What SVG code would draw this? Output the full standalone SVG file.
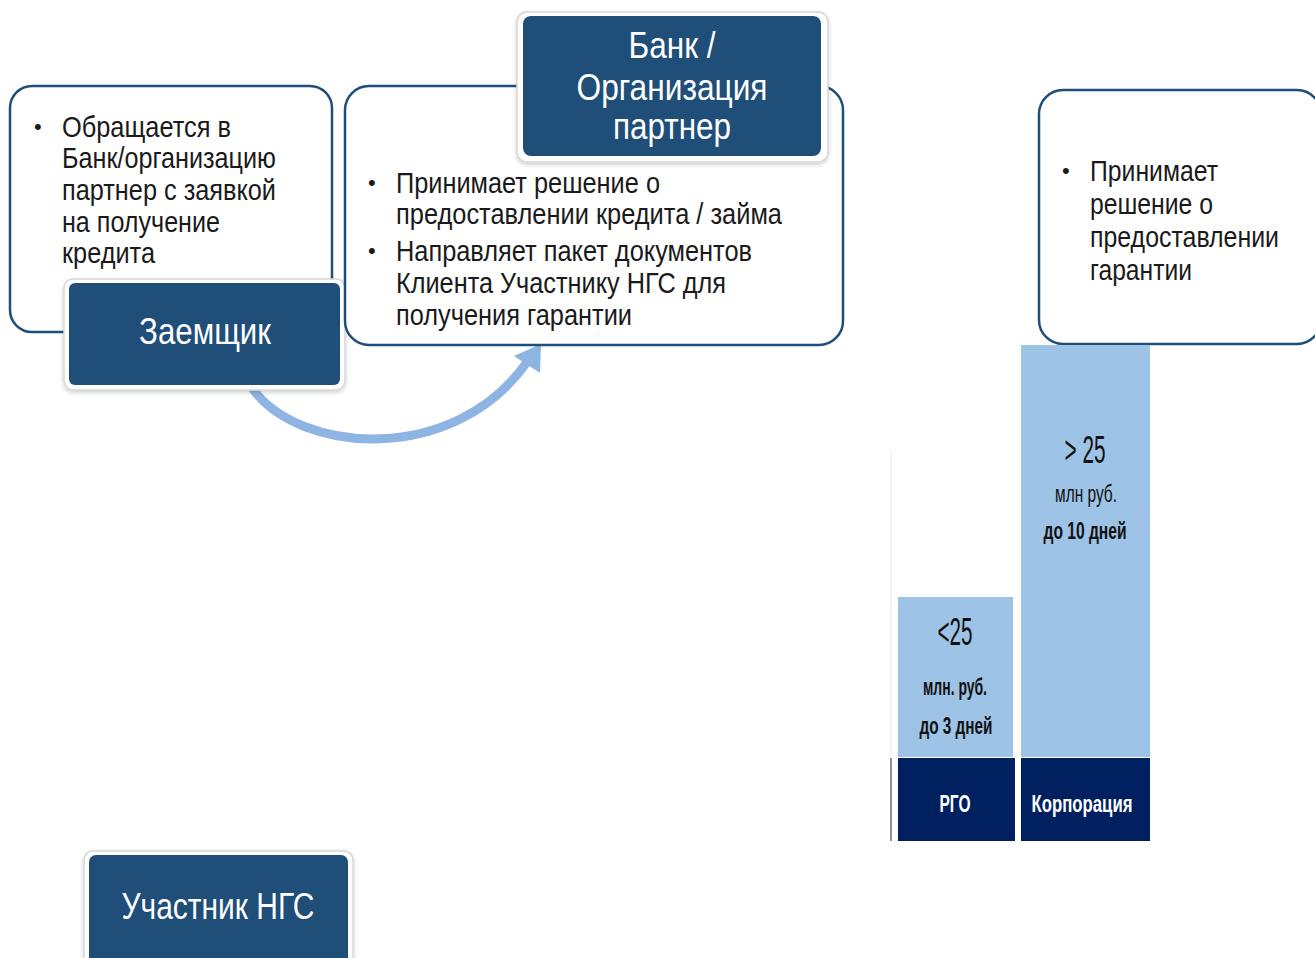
<svg xmlns="http://www.w3.org/2000/svg" width="1315" height="958" viewBox="0 0 1315 958">
<style>
.box{fill:#fff;stroke:#1f4e79;stroke-width:2.5}
.hdr-o{fill:#fff;stroke:#d6d6d6;stroke-width:1.5}
.hdr{fill:#1f4e79}
.ht{font-family:"Liberation Sans Narrow","Liberation Sans",Arial,sans-serif;font-size:36px;fill:#fff;text-anchor:middle}
.bt{font-family:"Liberation Sans Narrow","Liberation Sans",Arial,sans-serif;font-size:29px;fill:#1a1a1a}
.bul{font-family:"Liberation Sans",Arial,sans-serif;font-size:22px;fill:#1a1a1a}
.light{fill:#9dc3e6}
.dark{fill:#002060}
.bk{font-family:"Liberation Sans Narrow","Liberation Sans",Arial,sans-serif;fill:#111;text-anchor:middle}
.wt{font-family:"Liberation Sans Narrow","Liberation Sans",Arial,sans-serif;fill:#fff;text-anchor:middle;font-weight:bold;font-size:23px}
</style>
<defs>
<filter id="sh" x="-10%" y="-10%" width="120%" height="130%">
<feDropShadow dx="0" dy="2" stdDeviation="2" flood-color="#000" flood-opacity="0.18"/>
</filter>
</defs>

<g id="connectors">
<path d="M 252 388 C 300 455, 455 465, 527 362" fill="none" stroke="#8db4e2" stroke-width="9"/>
<polygon points="541,344 540,373 514,356" fill="#8db4e2"/>
</g>

<g id="borrower-box">
<rect class="box" x="10" y="86" width="322" height="246" rx="22"/>
<text class="bul" x="34" y="134">•</text>
<text class="bt" x="62" y="137" textLength="169" lengthAdjust="spacingAndGlyphs">Обращается в</text>
<text class="bt" x="62" y="168" textLength="214" lengthAdjust="spacingAndGlyphs">Банк/организацию</text>
<text class="bt" x="62" y="200" textLength="214" lengthAdjust="spacingAndGlyphs">партнер с заявкой</text>
<text class="bt" x="62" y="232" textLength="158" lengthAdjust="spacingAndGlyphs">на получение</text>
<text class="bt" x="62" y="263" textLength="93" lengthAdjust="spacingAndGlyphs">кредита</text>
</g>

<g id="borrower">
<rect class="hdr-o" x="64" y="279" width="281" height="111" rx="9" filter="url(#sh)"/>
<rect class="hdr" x="69" y="283" width="271" height="102" rx="6"/>
<text class="ht" x="205" y="344" textLength="132" lengthAdjust="spacingAndGlyphs">Заемщик</text>
</g>

<g id="bank-box">
<rect class="box" x="345" y="86" width="498" height="259" rx="24"/>
<text class="bul" x="368" y="190">•</text>
<text class="bt" x="396" y="193" textLength="264" lengthAdjust="spacingAndGlyphs">Принимает решение о</text>
<text class="bt" x="396" y="224" textLength="386" lengthAdjust="spacingAndGlyphs">предоставлении кредита / займа</text>
<text class="bul" x="368" y="258">•</text>
<text class="bt" x="396" y="261" textLength="356" lengthAdjust="spacingAndGlyphs">Направляет пакет документов</text>
<text class="bt" x="396" y="293" textLength="330" lengthAdjust="spacingAndGlyphs">Клиента Участнику НГС для</text>
<text class="bt" x="396" y="325" textLength="236" lengthAdjust="spacingAndGlyphs">получения гарантии</text>
</g>

<g id="bank">
<rect class="hdr-o" x="517" y="12" width="311" height="150" rx="10" filter="url(#sh)"/>
<rect class="hdr" x="523" y="16" width="298" height="140" rx="8"/>
<text class="ht" x="672" y="58" textLength="87" lengthAdjust="spacingAndGlyphs">Банк /</text>
<text class="ht" x="672" y="100" textLength="191" lengthAdjust="spacingAndGlyphs">Организация</text>
<text class="ht" x="672" y="139" textLength="118" lengthAdjust="spacingAndGlyphs">партнер</text>
</g>

<g id="guarantor-box">
<rect class="box" x="1039" y="90" width="282" height="254" rx="24"/>
<text class="bul" x="1062" y="178">•</text>
<text class="bt" x="1090" y="181" textLength="128" lengthAdjust="spacingAndGlyphs">Принимает</text>
<text class="bt" x="1090" y="214" textLength="123" lengthAdjust="spacingAndGlyphs">решение о</text>
<text class="bt" x="1090" y="247" textLength="189" lengthAdjust="spacingAndGlyphs">предоставлении</text>
<text class="bt" x="1090" y="280" textLength="102" lengthAdjust="spacingAndGlyphs">гарантии</text>
</g>

<g id="chart">
<line x1="891" y1="450" x2="891" y2="757" stroke="#f0f0f0" stroke-width="1.5"/>
<line x1="891" y1="758" x2="891" y2="841" stroke="#6a6a80" stroke-width="1.5"/>
<rect class="light" x="898" y="597" width="115" height="160"/>
<rect class="dark" x="898" y="758" width="117" height="83"/>
<rect class="light" x="1021" y="345" width="129" height="412"/>
<rect class="dark" x="1021" y="758" width="129" height="83"/>
<text class="bk" x="955" y="645" font-size="38" textLength="35" lengthAdjust="spacingAndGlyphs">&lt;25</text>
<text class="bk" x="955" y="695" font-size="23" font-weight="bold" textLength="64" lengthAdjust="spacingAndGlyphs">млн. руб.</text>
<text class="bk" x="956" y="734" font-size="23" font-weight="bold" textLength="73" lengthAdjust="spacingAndGlyphs">до 3 дней</text>
<text class="wt" x="955" y="812" textLength="31" lengthAdjust="spacingAndGlyphs">РГО</text>
<text class="bk" x="1085" y="463" font-size="39" textLength="41" lengthAdjust="spacingAndGlyphs">&gt; 25</text>
<text class="bk" x="1086" y="502" font-size="23" textLength="62" lengthAdjust="spacingAndGlyphs">млн руб.</text>
<text class="bk" x="1085" y="539" font-size="23" font-weight="bold" textLength="83" lengthAdjust="spacingAndGlyphs">до 10 дней</text>
<text class="wt" x="1082" y="812" textLength="101" lengthAdjust="spacingAndGlyphs">Корпорация</text>
</g>

<g id="participant">
<rect class="hdr-o" x="84" y="851" width="269" height="125" rx="9" filter="url(#sh)"/>
<rect class="hdr" x="89" y="855" width="259" height="115" rx="7"/>
<text class="ht" x="218" y="919" textLength="193" lengthAdjust="spacingAndGlyphs">Участник НГС</text>
</g>
</svg>
